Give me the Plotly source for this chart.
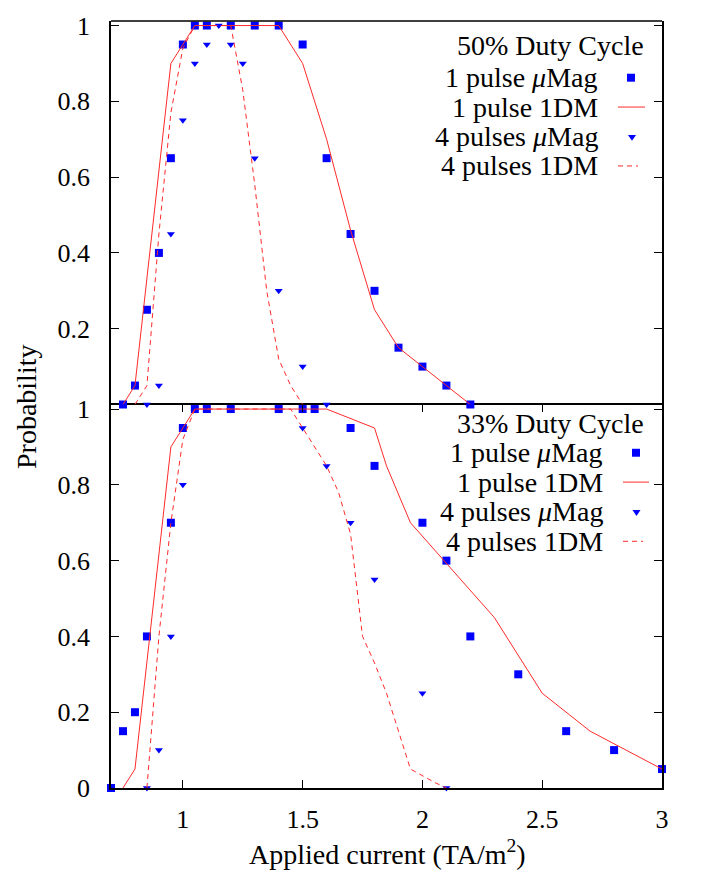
import plotly.graph_objects as go

# ---------------- data ----------------
# 50% duty cycle (top panel)
sq50_x = [0.75, 0.8, 0.85, 0.9, 0.95, 1.0, 1.05, 1.1, 1.2, 1.3, 1.4, 1.5, 1.6, 1.7, 1.8, 1.9, 2.0, 2.1, 2.2]
sq50_y = [0, 0.05, 0.25, 0.4, 0.65, 0.95, 1, 1, 1, 1, 1, 0.95, 0.65, 0.45, 0.3, 0.15, 0.1, 0.05, 0]

dm1_50_x = [0.75, 0.8, 0.95, 1.05, 1.4, 1.5, 1.6, 1.7, 1.8, 1.9, 2.0, 2.1, 2.2]
dm1_50_y = [0, 0.05, 0.9, 1, 1, 0.9, 0.7, 0.46, 0.25, 0.15, 0.1, 0.05, 0]

tri50_x = [0.85, 0.9, 0.95, 1.0, 1.05, 1.1, 1.15, 1.2, 1.25, 1.3, 1.4, 1.5, 1.6]
tri50_y = [0, 0.05, 0.45, 0.75, 0.9, 0.95, 1, 0.95, 0.9, 0.65, 0.3, 0.1, 0]

dm4_50_x = [0.8, 0.85, 0.9, 0.95, 1.0, 1.05, 1.2, 1.25, 1.3, 1.35, 1.4, 1.45, 1.5]
dm4_50_y = [0, 0.05, 0.45, 0.77, 0.94, 1, 1, 0.83, 0.58, 0.3, 0.12, 0.05, 0]

# 33% duty cycle (bottom panel)
sq33_x = [0.7, 0.75, 0.8, 0.85, 0.95, 1.0, 1.05, 1.1, 1.2, 1.4, 1.5, 1.55, 1.7, 1.8, 2.0, 2.1, 2.2, 2.4, 2.6, 2.8, 3.0]
sq33_y = [0, 0.15, 0.2, 0.4, 0.7, 0.95, 1, 1, 1, 1, 1, 1, 0.95, 0.85, 0.7, 0.6, 0.4, 0.3, 0.15, 0.1, 0.05]

dm1_33_x = [0.75, 0.8, 0.95, 1.05, 1.6, 1.8, 1.85, 1.95, 2.3, 2.5, 2.7, 3.0]
dm1_33_y = [0, 0.05, 0.9, 1, 1, 0.95, 0.85, 0.7, 0.45, 0.25, 0.15, 0.05]

tri33_x = [0.85, 0.9, 0.95, 1.0, 1.5, 1.6, 1.7, 1.8, 2.0, 2.1]
tri33_y = [0, 0.1, 0.4, 0.8, 0.95, 0.85, 0.7, 0.55, 0.25, 0]

dm4_33_x = [0.85, 0.9, 0.95, 1.0, 1.05, 1.45, 1.5, 1.6, 1.65, 1.7, 1.75, 1.8, 1.85, 1.9, 1.95, 2.05, 2.1]
dm4_33_y = [0, 0.4, 0.7, 0.92, 1, 1, 0.95, 0.85, 0.78, 0.67, 0.4, 0.33, 0.25, 0.15, 0.05, 0.015, 0]

x_ticks = [1, 1.5, 2, 2.5, 3]
x_ticktext = ["1", "1.5", "2", "2.5", "3"]
y_ticks_bottom = [0, 0.2, 0.4, 0.6, 0.8, 1]
y_ticktext_bottom = ["0", "0.2", "0.4", "0.6", "0.8", "1"]
y_ticks_top = [0.2, 0.4, 0.6, 0.8, 1]
y_ticktext_top = ["0.2", "0.4", "0.6", "0.8", "1"]

legend_labels = ["1 pulse <i>μ</i>Mag", "1 pulse 1DM", "4 pulses <i>μ</i>Mag", "4 pulses 1DM"]
panel_titles = ["50% Duty Cycle", "33% Duty Cycle"]
x_title = "Applied current (TA/m<sup>2</sup>)"
y_title = "Probability"

# ---------------- style ----------------
W, H = 717, 889
ML, MR, MT, MB = 111, 55, 17, 101
PW, PH = W - ML - MR, H - MT - MB
FONT = "Liberation Serif"
FS_TICK = 26
FS_TEXT = 28
BLUE = "#0000ff"
RED = "#ff2a2a"


def px(x):
    return (x - ML) / PW


def py(y):
    return (H - MB - y) / PH


fig = go.Figure()


def add_panel(sx, sy, dx, dy, tx, ty, ex, ey, xa, ya):
    fig.add_trace(go.Scatter(x=sx, y=sy, mode="markers", xaxis=xa, yaxis=ya,
                             marker=dict(symbol="square", size=8, color=BLUE, line=dict(width=0)),
                             showlegend=False, cliponaxis=False))
    fig.add_trace(go.Scatter(x=dx, y=dy, mode="lines", xaxis=xa, yaxis=ya,
                             line=dict(color=RED, width=1), showlegend=False))
    fig.add_trace(go.Scatter(x=tx, y=ty, mode="markers", xaxis=xa, yaxis=ya,
                             marker=dict(symbol="triangle-down", size=7, color=BLUE, line=dict(width=0)),
                             showlegend=False, cliponaxis=False))
    fig.add_trace(go.Scatter(x=ex, y=ey, mode="lines", xaxis=xa, yaxis=ya,
                             line=dict(color=RED, width=1, dash="5px,4px"), showlegend=False))


add_panel(sq50_x, sq50_y, dm1_50_x, dm1_50_y, tri50_x, tri50_y, dm4_50_x, dm4_50_y, "x2", "y2")
add_panel(sq33_x, sq33_y, dm1_33_x, dm1_33_y, tri33_x, tri33_y, dm4_33_x, dm4_33_y, "x", "y")

axis_common = dict(showgrid=False, zeroline=False, showline=True, linecolor="black", linewidth=1.5,
                   ticks="inside", ticklen=8, tickwidth=1.3, tickcolor="black",
                   tickfont=dict(family=FONT, size=FS_TICK, color="black"))

fig.update_layout(
    width=W, height=H,
    margin=dict(l=ML, r=MR, t=MT, b=MB),
    paper_bgcolor="white", plot_bgcolor="white",
    showlegend=False,
    font=dict(family=FONT, size=FS_TEXT, color="black"),
    xaxis=dict(domain=[0, 1], range=[0.7, 3], anchor="y", tickvals=x_ticks, ticktext=x_ticktext,
               mirror="ticks", ticklabelstandoff=7, **axis_common),
    xaxis2=dict(domain=[0, 1], range=[0.7, 3], anchor="y2", matches="x", showticklabels=False,
                showgrid=False, zeroline=False, showline=False, linecolor="black", linewidth=1.5,
                ticks=""),
    yaxis=dict(domain=[0, 0.5], range=[0, 1.012], anchor="x", tickvals=y_ticks_bottom,
               ticktext=y_ticktext_bottom, mirror="ticks", ticklabelstandoff=14, **axis_common),
    yaxis2=dict(domain=[0.5, 1], range=[0, 1.012], anchor="x2", tickvals=y_ticks_top,
                ticktext=y_ticktext_top, mirror="ticks", ticklabelstandoff=14, **axis_common),
)

annotations = []
shapes = []

# top border of the upper panel (the separator comes from the lower axis mirror line)
shapes.append(dict(type="line", xref="paper", yref="paper", x0=0, x1=1, y0=1, y1=1,
                   line=dict(color="black", width=1.5)))

# axis titles
annotations.append(dict(text=x_title, xref="paper", yref="paper", x=px(387), y=py(853),
                        xanchor="center", yanchor="middle", showarrow=False,
                        font=dict(family=FONT, size=FS_TEXT)))
annotations.append(dict(text=y_title, xref="paper", yref="paper", x=px(27), y=py(405),
                        xanchor="center", yanchor="middle", showarrow=False, textangle=-90,
                        font=dict(family=FONT, size=FS_TEXT)))

# legends (gnuplot style: text right-aligned, sample on the right)
legend_specs = [
    dict(title_y=41.7, text_right=600, rows=[73.5, 103.5, 133.5, 162.7],
         sq=(631, 74), line=(618, 645), tri=(632, 134), dash=(618, 638)),
    dict(title_y=421.7, text_right=605, rows=[450.5, 480.5, 510.5, 540],
         sq=(636, 451), line=(623, 649), tri=(636.5, 511), dash=(623, 643)),
]
for title, spec in zip(panel_titles, legend_specs):
    annotations.append(dict(text=title, xref="paper", yref="paper", x=px(646), y=py(spec["title_y"]),
                            xanchor="right", yanchor="middle", showarrow=False,
                            font=dict(family=FONT, size=FS_TEXT)))
    for lab, ry in zip(legend_labels, spec["rows"]):
        annotations.append(dict(text=lab, xref="paper", yref="paper", x=px(spec["text_right"]), y=py(ry),
                                xanchor="right", yanchor="middle", showarrow=False,
                                font=dict(family=FONT, size=FS_TEXT)))
    cx, cy = spec["sq"]
    shapes.append(dict(type="rect", xref="paper", yref="paper", x0=px(cx - 4), x1=px(cx + 4),
                       y0=py(cy + 4), y1=py(cy - 4), fillcolor=BLUE, line=dict(width=0)))
    ly = spec["rows"][1]
    shapes.append(dict(type="line", xref="paper", yref="paper", x0=px(spec["line"][0]), x1=px(spec["line"][1]),
                       y0=py(ly), y1=py(ly), line=dict(color=RED, width=1)))
    tx, ty = spec["tri"]
    path = "M {:.5f},{:.5f} L {:.5f},{:.5f} L {:.5f},{:.5f} Z".format(
        px(tx - 4), py(ty - 2.5), px(tx + 4), py(ty - 2.5), px(tx), py(ty + 3.5))
    shapes.append(dict(type="path", xref="paper", yref="paper", path=path, fillcolor=BLUE, line=dict(width=0)))
    dy = spec["rows"][3]
    shapes.append(dict(type="line", xref="paper", yref="paper", x0=px(spec["dash"][0]), x1=px(spec["dash"][1]),
                       y0=py(dy), y1=py(dy), line=dict(color=RED, width=1, dash="5px,4px")))

fig.update_layout(annotations=annotations, shapes=shapes)

fig.write_html("out.html")
